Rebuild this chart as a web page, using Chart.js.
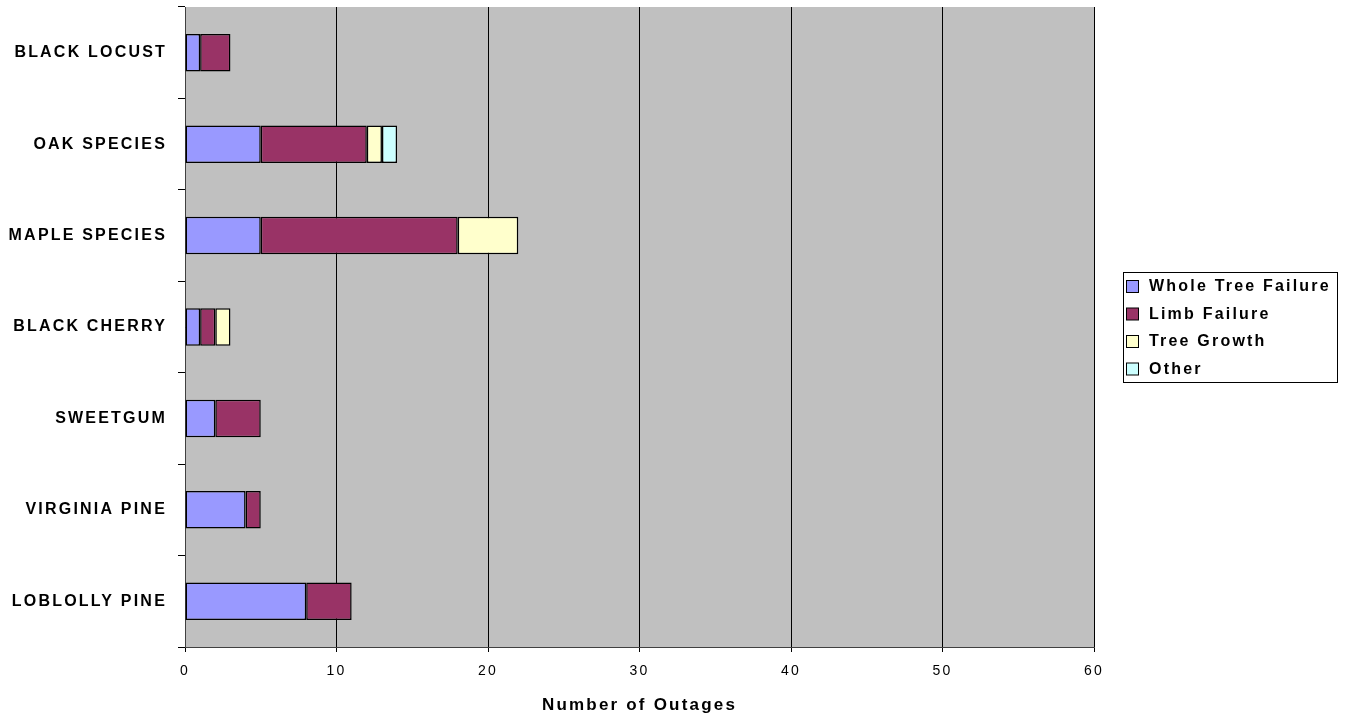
<!DOCTYPE html>
<html>
<head>
<meta charset="utf-8">
<script src="https://cdn.jsdelivr.net/npm/chart.js@4/dist/chart.umd.min.js"></script>
<style>
  html, body { margin: 0; padding: 0; background: #ffffff; }
  #wrap { width: 1347px; height: 721px; position: relative; }
</style>
</head>
<body>
<div id="wrap"><canvas id="c" width="1347" height="721"></canvas></div>
<script>
// Tree species (top to bottom) and outage counts by cause
const species = ['BLACK LOCUST', 'OAK SPECIES', 'MAPLE SPECIES', 'BLACK CHERRY', 'SWEETGUM', 'VIRGINIA PINE', 'LOBLOLLY PINE'];
const wholeTreeFailure = [1, 5, 5, 1, 2, 4, 8];
const limbFailure      = [2, 7, 13, 1, 3, 1, 3];
const treeGrowth       = [0, 1, 4, 1, 0, 0, 0];
const other            = [0, 1, 0, 0, 0, 0, 0];
const xTicks = [0, 10, 20, 30, 40, 50, 60];

const FONT = '"Liberation Sans", Arial, sans-serif';
const SPACING = '2.2px';

// Grey plot area behind the bars
const plotBackground = {
  id: 'plotBackground',
  beforeDraw(chart) {
    const { ctx, chartArea: a } = chart;
    ctx.save();
    ctx.fillStyle = '#C0C0C0';
    ctx.fillRect(a.left, a.top, a.right - a.left, a.bottom - a.top);
    ctx.restore();
  }
};

// Wide letter spacing for all canvas text
const spacedText = {
  id: 'spacedText',
  beforeUpdate(chart) { chart.ctx.letterSpacing = SPACING; },
  beforeDraw(chart) { chart.ctx.letterSpacing = SPACING; }
};

// Boxed legend at the right of the plot
const boxLegend = {
  id: 'boxLegend',
  afterDraw(chart) {
    const ctx = chart.ctx;
    const x = 1123, y = 272, w = 214, h = 110;
    ctx.save();
    ctx.letterSpacing = SPACING;
    ctx.fillStyle = '#ffffff';
    ctx.fillRect(x, y, w, h);
    ctx.strokeStyle = '#000000';
    ctx.lineWidth = 1;
    ctx.strokeRect(x + 0.5, y + 0.5, w, h);
    ctx.font = 'bold 16px ' + FONT;
    ctx.textBaseline = 'middle';
    ctx.textAlign = 'left';
    chart.data.datasets.forEach((ds, i) => {
      const cy = y + 14 + i * 27.5;
      ctx.fillStyle = ds.backgroundColor;
      ctx.fillRect(x + 3.5, cy - 5.5, 12, 12);
      ctx.strokeStyle = '#000000';
      ctx.strokeRect(x + 3.5, cy - 5.5, 12, 12);
      ctx.fillStyle = '#000000';
      ctx.fillText(ds.label, x + 26, cy + 1);
    });
    ctx.restore();
  }
};

const mk = (label, data, color) => ({
  label, data,
  backgroundColor: color,
  borderColor: '#000000',
  borderWidth: 1.5,
  borderSkipped: false,
  barPercentage: 1.0,
  categoryPercentage: 0.41
});

new Chart(document.getElementById('c'), {
  type: 'bar',
  data: {
    labels: species,
    datasets: [
      mk('Whole Tree Failure', wholeTreeFailure, '#9999FF'),
      mk('Limb Failure', limbFailure, '#993366'),
      mk('Tree Growth', treeGrowth, '#FFFFCC'),
      mk('Other', other, '#CCFFFF')
    ]
  },
  options: {
    indexAxis: 'y',
    responsive: false,
    animation: false,
    devicePixelRatio: 1,
    layout: { padding: { left: 0, top: 7, right: 253, bottom: 0 } },
    plugins: {
      legend: { display: false },
      tooltip: { enabled: false }
    },
    scales: {
      x: {
        stacked: true,
        min: 0, max: 60,
        afterBuildTicks(scale) { scale.ticks = xTicks.map(v => ({ value: v })); },
        afterFit(scale) { scale.height = 74; scale.paddingLeft = 0; scale.paddingRight = 0; },
        grid: { color: '#000000', lineWidth: 1, drawTicks: true, tickLength: 5, tickColor: '#000000' },
        border: { display: true, color: '#404040', width: 1 },
        ticks: { color: '#000000', font: { family: FONT, size: 14 }, padding: 11 },
        title: {
          display: true,
          text: 'Number of Outages',
          color: '#000000',
          font: { family: FONT, size: 17, weight: 'bold' },
          padding: { top: 0, bottom: 5 }
        }
      },
      y: {
        stacked: true,
        afterFit(scale) { scale.width = 185; scale.paddingTop = 0; scale.paddingBottom = 0; },
        grid: { offset: true, drawOnChartArea: false, drawTicks: true, tickLength: 7, tickColor: '#000000' },
        border: { display: true, color: '#404040', width: 1 },
        ticks: { color: '#000000', font: { family: FONT, size: 16, weight: 'bold' }, padding: 11 }
      }
    }
  },
  plugins: [spacedText, plotBackground, boxLegend]
});
</script>
</body>
</html>
